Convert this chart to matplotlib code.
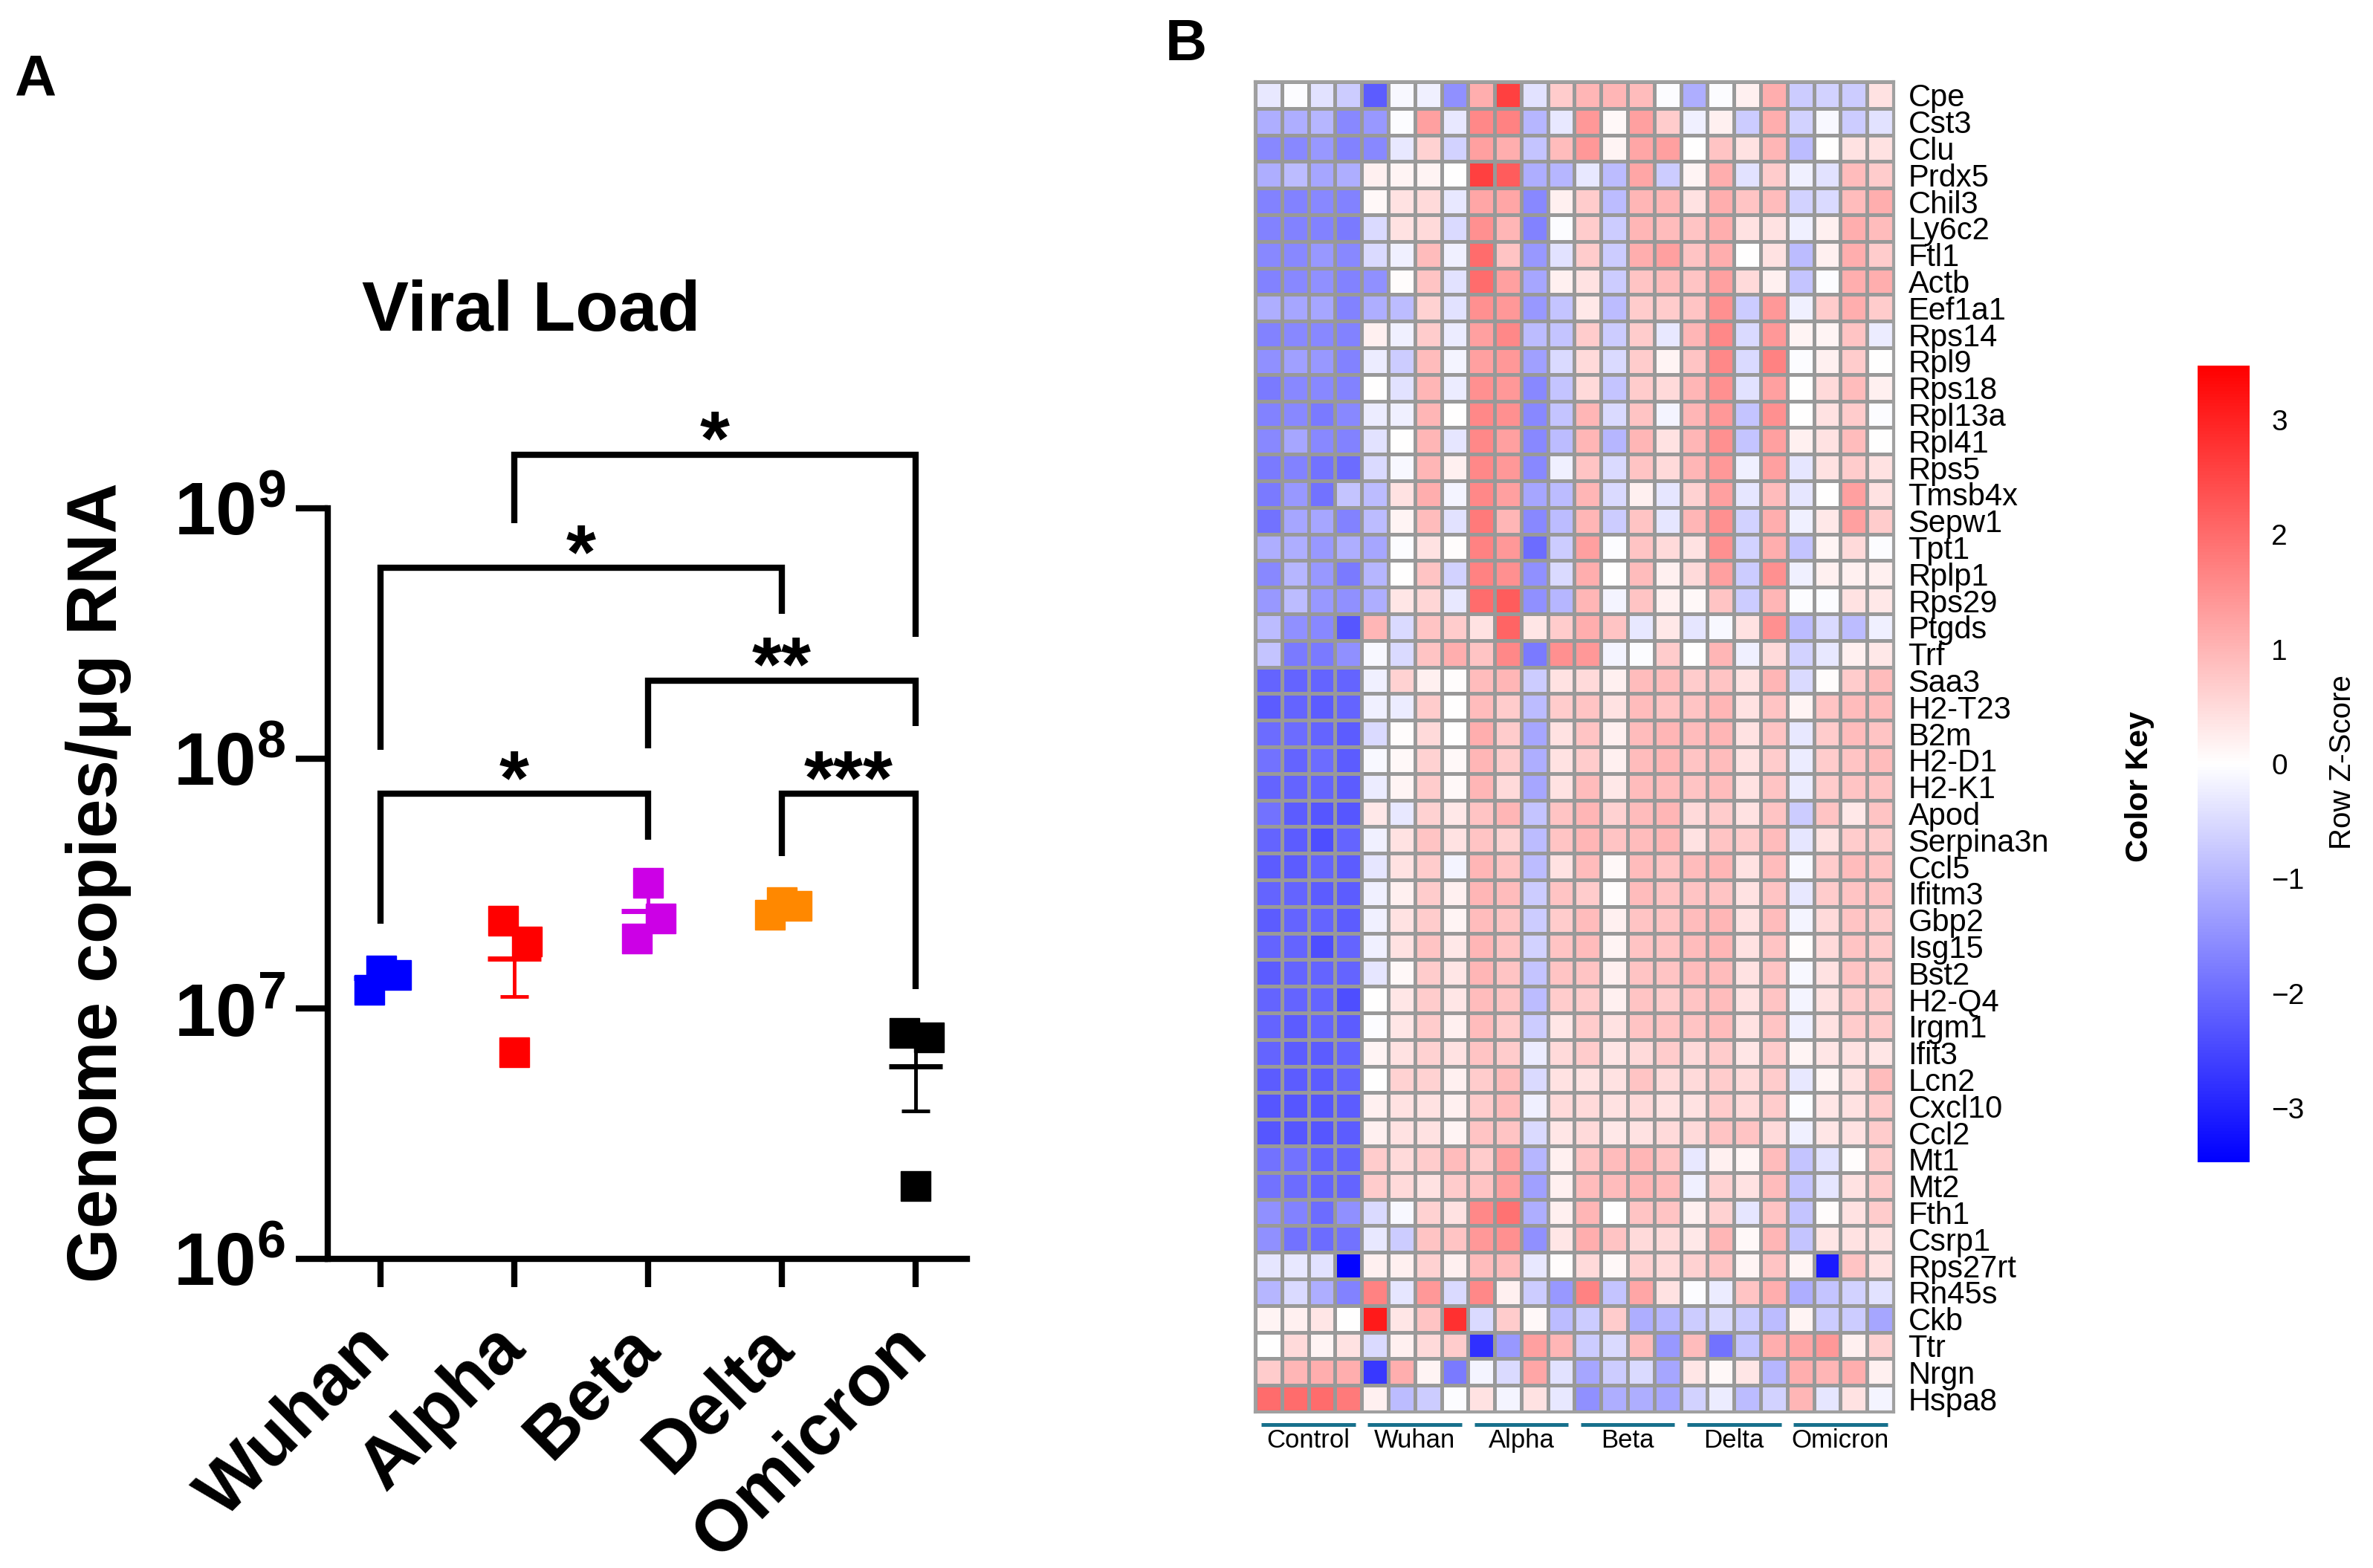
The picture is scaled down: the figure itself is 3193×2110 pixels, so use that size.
"""Viral load scatter (A) and gene z-score heatmap (B)."""

import matplotlib

matplotlib.use("Agg")
import matplotlib.pyplot as plt
import numpy as np
from matplotlib.colors import LinearSegmentedColormap
from matplotlib.ticker import NullLocator
from matplotlib.transforms import ScaledTranslation

W, H = 3193, 2110

plt.rcParams["font.family"] = ["Liberation Sans", "DejaVu Sans"]
plt.rcParams["mathtext.fontset"] = "custom"
plt.rcParams["mathtext.rm"] = "Liberation Sans"
plt.rcParams["mathtext.bf"] = "Liberation Sans:bold"

# ---- panel A data -------------------------------------------------------
variants = ["Wuhan", "Alpha", "Beta", "Delta", "Omicron"]
variant_colors = ["#0000ff", "#ff0000", "#cc00e6", "#ff8800", "#000000"]
wuhan = [1.19e7, 1.42e7, 1.36e7]
alpha = [2.25e7, 1.85e7, 6.7e6]
beta = [3.19e7, 2.29e7, 1.90e7]
delta = [2.37e7, 2.67e7, 2.57e7]
omicron = [7.98e6, 7.7e6, 1.95e6]
loads = [wuhan, alpha, beta, delta, omicron]
# horizontal spread of the dots inside each column
jitter = [[-0.083, 0.006, 0.117], [-0.083, 0.094, 0.0], [0.0, 0.094, -0.083],
          [-0.09, 0.0, 0.11], [-0.083, 0.1, 0.0]]

# significance brackets: (left group, right group, bar, left leg end, right leg end, label)
brackets = [
    (0, 2, 7.21e7, 2.19e7, 4.75e7, "*"),
    (2, 4, 2.05e8, 1.10e8, 1.35e8, "**"),
    (3, 4, 7.21e7, 4.06e7, 1.20e7, "***"),
    (0, 3, 5.79e8, 1.08e8, 3.79e8, "*"),
    (1, 4, 1.64e9, 8.72e8, 3.07e8, "*"),
]

# ---- panel B data -------------------------------------------------------
genes = ["Cpe", "Cst3", "Clu", "Prdx5", "Chil3", "Ly6c2", "Ftl1", "Actb", "Eef1a1",
         "Rps14", "Rpl9", "Rps18", "Rpl13a", "Rpl41", "Rps5", "Tmsb4x", "Sepw1",
         "Tpt1", "Rplp1", "Rps29", "Ptgds", "Trf", "Saa3", "H2-T23", "B2m", "H2-D1",
         "H2-K1", "Apod", "Serpina3n", "Ccl5", "Ifitm3", "Gbp2", "Isg15", "Bst2",
         "H2-Q4", "Irgm1", "Ifit3", "Lcn2", "Cxcl10", "Ccl2", "Mt1", "Mt2", "Fth1",
         "Csrp1", "Rps27rt", "Rn45s", "Ckb", "Ttr", "Nrgn", "Hspa8"]
groups = ["Control", "Wuhan", "Alpha", "Beta", "Delta", "Omicron"]
per_group = 4

zscores = [
    [-0.3, -0.05, -0.4, -0.7, -2.2, -0.1, -0.2, -1.5, 1.1, 2.6, -0.4, 0.7, 1.0, 1.0, 0.9, -0.05, -1.1, -0.05, 0.2, 1.1, -0.7, -0.6, -0.7, 0.4],
    [-1.1, -1.1, -1.0, -1.6, -1.4, -0.05, 1.3, -0.3, 1.6, 1.7, -1.0, -0.3, 1.4, 0.1, 1.3, 0.7, -0.2, 0.2, -0.7, 1.1, -0.6, -0.1, -0.7, -0.4],
    [-1.6, -1.6, -1.4, -1.7, -1.6, -0.3, 0.6, -0.6, 1.3, 1.1, -0.8, 0.9, 1.4, 0.15, 1.2, 1.3, 0.0, 0.8, 0.4, 1.0, -0.9, 0.0, 0.4, 0.4],
    [-1.1, -0.9, -1.2, -1.1, 0.2, 0.15, 0.15, 0.0, 2.6, 2.2, -1.1, -1.0, -0.3, -0.9, 1.2, -0.7, 0.15, 1.1, -0.4, 0.7, -0.2, -0.4, 0.9, 0.7],
    [-1.7, -1.7, -1.6, -1.7, 0.1, 0.4, 0.5, -0.3, 1.2, 1.2, -1.6, 0.2, 0.7, -0.9, 1.0, 1.0, 0.4, 1.1, 0.8, 0.9, -0.6, -0.5, 0.9, 1.1],
    [-1.7, -1.7, -1.7, -1.8, -0.5, 0.4, 0.5, -0.5, 1.5, 1.0, -1.7, -0.05, 0.7, -0.7, 1.0, 0.9, 0.8, 1.1, 0.4, 0.4, -0.2, 0.2, 1.1, 0.9],
    [-1.6, -1.6, -1.4, -1.6, -0.5, -0.2, 0.9, -0.2, 2.0, 0.8, -1.4, -0.4, 0.7, -0.7, 1.1, 1.3, 0.8, 1.1, 0.0, 0.4, -0.9, 0.2, 1.1, 0.7],
    [-1.7, -1.6, -1.5, -1.7, -1.5, 0.05, 0.8, -0.4, 2.0, 1.3, -1.2, 0.2, 0.4, -0.7, 0.8, 0.9, 0.8, 1.3, 0.5, 0.2, -0.8, -0.05, 1.1, 1.1],
    [-1.1, -1.2, -1.2, -1.7, -1.1, -0.9, 0.6, -0.4, 1.5, 1.4, -1.4, -0.8, 0.3, -0.9, 0.7, 0.7, 0.8, 1.5, -0.7, 1.4, -0.2, 0.7, 1.1, 0.7],
    [-1.7, -1.6, -1.6, -1.7, 0.2, -0.2, 0.7, -0.25, 1.3, 1.6, -0.9, -0.8, 0.7, -0.7, 0.7, -0.3, 1.0, 1.6, -0.5, 1.4, 0.15, 0.15, 0.8, -0.25],
    [-1.5, -1.3, -1.4, -1.7, -0.25, -0.7, 0.9, -0.15, 1.3, 1.4, -1.3, -0.5, 0.5, -0.5, 0.7, 0.15, 0.8, 1.6, -0.5, 1.7, -0.05, 0.2, 0.7, 0.0],
    [-1.8, -1.6, -1.6, -1.7, 0.0, -0.4, 1.0, -0.25, 1.5, 1.4, -1.6, -0.8, 0.5, -0.8, 0.7, 0.5, 1.0, 1.5, -0.4, 1.3, 0.0, 0.5, 0.9, 0.2],
    [-1.7, -1.6, -1.8, -1.6, -0.25, -0.2, 1.0, 0.0, 1.6, 1.5, -1.6, -0.8, 1.0, -0.5, 0.8, -0.15, 1.0, 1.4, -0.8, 1.5, 0.0, 0.4, 0.7, -0.05],
    [-1.6, -1.2, -1.6, -1.7, -0.4, 0.0, 1.0, -0.35, 1.6, 1.3, -1.6, -0.9, 1.0, -1.0, 1.0, 0.4, 1.0, 1.5, -0.8, 1.3, 0.2, 0.4, 0.9, 0.0],
    [-1.8, -1.7, -1.9, -2.0, -0.5, -0.1, 1.0, 0.2, 1.6, 1.4, -1.6, -0.2, 0.8, -0.5, 0.8, 0.5, 1.0, 1.4, -0.2, 1.3, -0.35, 0.4, 0.7, 0.4],
    [-1.8, -1.4, -1.9, -0.8, -0.9, 0.4, 1.1, -0.15, 1.6, 1.3, -1.2, -0.9, 1.0, -0.5, 0.2, -0.35, 0.6, 1.3, -0.35, 0.9, -0.35, 0.0, 1.3, 0.4],
    [-1.9, -1.2, -1.2, -1.7, -0.9, 0.15, 0.9, -0.4, 1.8, 1.0, -1.6, -0.9, 1.0, -0.7, 0.8, -0.35, 1.0, 1.5, -0.6, 1.1, -0.2, 0.3, 1.3, 0.7],
    [-1.1, -1.1, -1.4, -1.1, -1.2, -0.05, 0.4, 0.05, 1.7, 1.4, -2.0, -0.7, 1.3, -0.05, 0.8, 0.5, 0.4, 1.5, -0.6, 1.1, -0.8, 0.15, 0.5, -0.05],
    [-1.6, -1.0, -1.4, -1.8, -1.0, 0.0, 0.8, -0.6, 1.7, 1.5, -1.5, -0.5, 1.1, 0.0, 0.9, 0.2, 0.5, 1.3, -0.7, 1.5, -0.2, 0.2, 0.2, 0.2],
    [-1.4, -0.9, -1.4, -1.5, -1.1, 0.35, 0.55, -0.3, 2.0, 2.2, -1.5, -1.0, 1.0, -0.15, 0.8, 0.2, 0.1, 0.8, -0.7, 1.0, -0.05, -0.05, 0.4, 0.3],
    [-0.9, -1.5, -1.6, -2.3, 1.0, -0.5, 0.8, 0.7, 0.4, 2.1, 0.35, 0.7, 1.1, 0.8, -0.3, 0.3, -0.35, -0.1, 0.4, 1.5, -0.9, -0.5, -0.9, -0.2],
    [-0.8, -1.8, -1.8, -1.5, -0.1, -0.5, 0.8, 1.1, 0.8, 1.6, -1.8, 1.5, 1.4, -0.15, -0.05, 0.7, 0.0, 1.0, -0.2, 0.5, -0.6, -0.3, 0.2, 0.3],
    [-2.1, -2.1, -2.1, -2.1, -0.2, 0.6, 0.2, 0.05, 0.9, 1.0, -0.7, 0.4, 0.5, 0.2, 0.9, 0.9, 0.7, 0.8, 0.4, 1.0, -0.5, 0.05, 0.7, 0.9],
    [-2.2, -2.1, -2.2, -2.1, -0.2, -0.25, 0.7, 0.0, 0.9, 0.7, -0.9, 0.7, 0.8, 0.4, 0.9, 0.8, 0.8, 1.0, 0.4, 0.8, 0.15, 0.8, 0.9, 0.9],
    [-2.0, -2.0, -2.1, -2.2, -0.5, 0.05, 0.5, 0.0, 1.1, 0.7, -1.2, 0.4, 0.8, 0.2, 0.9, 1.0, 0.9, 1.0, 0.4, 0.8, -0.3, 0.7, 0.9, 0.8],
    [-1.9, -2.1, -2.0, -2.2, -0.1, 0.1, 0.6, 0.1, 1.0, 0.7, -1.1, 0.4, 0.7, 0.2, 0.9, 1.0, 0.8, 0.9, 0.4, 0.7, -0.25, 0.7, 0.8, 0.9],
    [-2.1, -2.1, -2.1, -2.2, -0.25, 0.15, 0.7, 0.1, 1.0, 0.5, -1.2, 0.4, 0.9, 0.3, 0.9, 0.9, 0.8, 0.9, 0.4, 0.8, -0.25, 0.7, 0.8, 0.8],
    [-1.9, -2.2, -2.3, -2.3, 0.3, -0.3, 0.6, 0.3, 0.8, 1.0, -0.8, 0.8, 1.0, 0.6, 0.9, 1.0, 0.5, 0.7, 0.4, 0.8, -0.7, 0.8, 0.3, 0.8],
    [-2.1, -2.2, -2.4, -2.1, -0.2, 0.4, 0.8, 0.4, 0.8, 0.6, -0.9, 0.8, 1.0, 0.8, 0.9, 1.0, 0.4, 0.8, 0.7, 0.9, -0.35, 0.4, 0.7, 0.7],
    [-2.2, -2.2, -2.1, -2.2, -0.35, 0.4, 0.7, -0.15, 1.0, 0.8, -0.9, 0.4, 0.9, 0.1, 0.9, 0.8, 0.9, 1.0, 0.4, 0.9, -0.1, 0.7, 0.9, 0.8],
    [-2.1, -2.1, -2.2, -2.2, -0.2, 0.2, 0.7, 0.2, 1.0, 0.9, -0.7, 0.8, 0.7, 0.05, 0.9, 0.8, 0.8, 0.8, 0.4, 0.8, -0.3, 0.7, 0.8, 0.8],
    [-2.2, -2.1, -2.1, -2.2, -0.2, 0.4, 0.7, 0.15, 0.9, 0.8, -0.7, 0.7, 0.9, 0.2, 0.8, 0.8, 0.9, 1.0, 0.4, 0.9, -0.15, 0.5, 0.8, 0.7],
    [-2.1, -2.1, -2.4, -2.1, -0.2, 0.4, 0.8, 0.3, 1.0, 0.8, -0.6, 0.8, 0.9, 0.15, 0.8, 0.8, 0.9, 1.0, 0.4, 0.8, 0.05, 0.5, 0.8, 0.7],
    [-2.2, -2.1, -2.1, -2.1, -0.35, 0.1, 0.7, 0.35, 1.0, 0.8, -0.8, 0.8, 0.8, 0.2, 0.8, 0.8, 0.9, 0.9, 0.4, 0.8, -0.1, 0.4, 0.8, 0.7],
    [-2.1, -2.1, -2.1, -2.4, 0.0, 0.35, 0.7, 0.35, 0.9, 0.8, -0.9, 0.7, 0.7, 0.2, 0.8, 0.7, 0.8, 0.9, 0.4, 0.8, -0.15, 0.4, 0.7, 0.7],
    [-2.1, -2.2, -2.1, -2.2, -0.05, 0.35, 0.7, 0.2, 0.9, 0.7, -0.7, 0.35, 0.7, 0.4, 0.8, 0.8, 0.8, 0.9, 0.4, 0.8, -0.2, 0.4, 0.7, 0.7],
    [-2.1, -2.2, -2.2, -2.1, 0.15, 0.4, 0.6, 0.4, 0.8, 0.7, -0.25, 0.5, 0.7, 0.35, 0.5, 0.7, 0.5, 0.7, 0.35, 0.7, 0.15, 0.35, 0.4, 0.35],
    [-2.2, -2.2, -2.2, -2.1, 0.0, 0.6, 0.6, 0.2, 0.7, 0.9, -0.5, 0.4, 0.4, 0.4, 0.8, 0.5, 0.5, 0.7, 0.5, 0.7, -0.3, 0.15, 0.4, 0.9],
    [-2.3, -2.3, -2.3, -2.2, 0.2, 0.4, 0.4, 0.2, 0.7, 0.9, -0.2, 0.5, 0.5, 0.4, 0.5, 0.4, 0.4, 0.7, 0.5, 0.7, -0.05, 0.35, 0.4, 0.7],
    [-2.3, -2.3, -2.3, -2.2, 0.2, 0.4, 0.4, 0.15, 0.8, 0.8, -0.5, 0.35, 0.5, 0.3, 0.4, 0.5, 0.5, 0.8, 0.8, 0.5, -0.2, 0.35, 0.4, 0.7],
    [-1.9, -1.9, -2.1, -2.1, 0.7, 0.5, 0.7, 0.9, 0.7, 1.3, -1.0, 0.2, 0.8, 0.9, 1.0, 0.8, -0.3, 0.2, 0.15, 0.9, -0.8, -0.4, 0.05, 0.7],
    [-1.9, -2.0, -2.1, -2.1, 0.7, 0.5, 0.4, 0.7, 0.8, 1.3, -1.3, 0.2, 0.9, 0.9, 1.0, 0.9, -0.2, 0.6, 0.4, 0.9, -0.8, -0.35, 0.4, 0.7],
    [-1.5, -1.7, -2.0, -1.5, -0.5, -0.1, 0.6, 0.4, 1.6, 1.9, -1.1, 0.2, 1.0, 0.0, 0.8, 0.8, 0.2, 0.6, -0.35, 0.8, -0.8, 0.05, 0.4, 0.7],
    [-1.5, -1.9, -2.0, -1.9, -0.3, -0.7, 0.8, 0.8, 1.4, 1.5, -1.5, 0.35, 1.1, 0.8, 0.5, 0.5, 0.3, 1.0, 0.1, 1.0, -0.8, 0.35, 0.4, 0.4],
    [-0.35, -0.3, -0.4, -3.4, 0.2, 0.2, 0.6, 0.2, 0.9, 0.9, -0.3, 0.05, 0.5, 0.1, 0.6, 0.5, 0.6, 0.8, 0.15, 0.8, 0.15, -3.1, 0.8, 0.4],
    [-1.0, -0.5, -1.1, -1.7, 1.7, -0.35, 1.4, -0.5, 1.6, 0.2, -0.7, -1.4, 1.7, -0.8, 1.2, 0.4, -0.05, -0.25, 0.8, 1.1, -1.1, -0.8, -0.6, -0.4],
    [0.15, 0.2, 0.35, 0.0, 3.1, 0.35, 0.8, 2.8, -0.5, 0.7, 0.1, -0.9, -0.7, 0.7, -1.1, -1.0, -0.7, -0.5, -0.7, -0.9, 0.15, -0.7, -0.7, -1.2],
    [0.0, 0.5, 0.15, 0.4, -0.5, 0.2, 0.5, 0.7, -2.8, -1.4, 1.3, 1.0, -0.7, -0.5, 0.9, -1.4, 0.9, -1.9, -0.8, 1.1, 1.2, 1.4, 0.2, 0.6],
    [0.7, 1.0, 1.1, 1.1, -2.7, 1.1, 0.15, -1.8, -0.15, -0.5, 1.2, -0.4, -1.2, -0.7, -0.5, -1.2, 0.35, 0.1, 0.35, -1.0, 1.1, 1.0, 1.1, 0.2],
    [2.0, 2.0, 2.0, 1.8, 0.2, -0.9, -0.7, -0.05, 0.4, -0.15, 0.4, -0.3, -1.5, -1.1, -1.1, -1.2, -0.6, -0.25, -0.9, -0.6, 1.0, -0.35, 0.4, -0.15],
]
zlim = 3.47
cbar_ticks = [-3, -2, -1, 0, 1, 2, 3]


def box(x0, y0, x1, y1):
    """Pixel box (top-left origin) -> figure fraction rect."""
    return [x0 / W, 1 - y1 / H, (x1 - x0) / W, (y1 - y0) / H]


def fx(x, y):
    return x / W, 1 - y / H


fig = plt.figure(figsize=(W / 100, H / 100), dpi=100)

# ======================= panel A =======================
ax = fig.add_axes(box(441, 684, 1301, 1694))
ax.set_yscale("log")
ax.set_ylim(1e6, 1e9)
ax.set_xlim(-0.394, 4.383)
for side in ["top", "right"]:
    ax.spines[side].set_visible(False)
for side in ["left", "bottom"]:
    ax.spines[side].set_linewidth(6)
ax.yaxis.set_minor_locator(NullLocator())
ax.set_yticks([1e6, 1e7, 1e8, 1e9])
ax.set_yticklabels([r"$\mathbf{10^{%d}}$" % e for e in (6, 7, 8, 9)], fontsize=72)
ax.tick_params(axis="y", length=31, width=6, pad=10)
ax.set_xticks(range(len(variants)))
ax.set_xticklabels(variants, rotation=45, ha="right", rotation_mode="anchor",
                   fontsize=70, fontweight="bold")
ax.tick_params(axis="x", length=27, width=6, pad=26)
shift = ScaledTranslation(-0.32, 0, fig.dpi_scale_trans)
for lab in ax.get_xticklabels():
    lab.set_transform(lab.get_transform() + shift)

for i, (vals, offs, col) in enumerate(zip(loads, jitter, variant_colors)):
    vals = np.asarray(vals)
    mean = vals.mean()
    sem = vals.std(ddof=1) / np.sqrt(len(vals))
    ax.hlines(mean, i - 0.2, i + 0.2, color=col, lw=5, zorder=2)
    ax.errorbar(i, mean, yerr=sem, color=col, elinewidth=3.5, capsize=14,
                capthick=3.5, zorder=2)
    ax.plot(i + np.asarray(offs), vals, "s", ms=29, color=col, mec=col,
            zorder=3, clip_on=False)

for g1, g2, bar, leg1, leg2, label in brackets:
    ax.plot([g1, g1, g2, g2], [leg1, bar, bar, leg2], color="black", lw=6,
            solid_joinstyle="miter", solid_capstyle="butt", clip_on=False, zorder=4)
    ax.annotate(label, xy=((g1 + g2) / 2, bar), xytext=(0, -10),
                textcoords="offset points", ha="center", va="baseline",
                fontsize=74, fontweight="bold", annotation_clip=False)

fig.text(*fx(715, 421), "Viral Load", ha="center", va="center", fontsize=68,
         fontweight="bold")
fig.text(*fx(133, 1188), "Genome copies/\u03bcg RNA", rotation=90, ha="center",
         va="center", fontsize=68, fontweight="bold")
fig.text(*fx(19, 128), "A", ha="left", va="baseline", fontsize=56, fontweight="bold")

# ======================= panel B =======================
cmap = LinearSegmentedColormap.from_list("bwr_key", ["#0000ff", "#ffffff", "#ff0000"])
data = np.asarray(zscores)
n_rows, n_cols = data.shape

axh = fig.add_axes(box(1689, 110, 2548, 1900))
mesh = axh.pcolormesh(np.arange(n_cols + 1), np.arange(n_rows + 1), data, cmap=cmap,
                      vmin=-zlim, vmax=zlim, edgecolors="#999999", linewidth=2.2)
axh.set_xlim(0, n_cols)
axh.set_ylim(n_rows, 0)
for sp in axh.spines.values():
    sp.set_color("#a0a0a0")
    sp.set_linewidth(3)
axh.set_xticks([])
axh.yaxis.tick_right()
axh.set_yticks(np.arange(n_rows) + 0.5)
axh.set_yticklabels(genes, fontsize=30)
axh.tick_params(axis="y", length=0, pad=14)

for k, name in enumerate(groups):
    c = k * per_group + per_group / 2
    axh.plot([c - 1.77, c + 1.77], [50.47, 50.47], color="#17708c", lw=3.6,
             solid_capstyle="butt", clip_on=False)
    axh.text(c, 50.62, name, ha="center", va="top", fontsize=25)

cax = fig.add_axes(box(2957, 492, 3027, 1564))
cb = fig.colorbar(mesh, cax=cax, ticks=cbar_ticks)
cb.outline.set_visible(False)
cax.tick_params(length=0, pad=21, labelsize=28)

fig.text(*fx(2879, 1059), "Color Key", rotation=90, ha="center", va="center",
         fontsize=31, fontweight="bold")
fig.text(*fx(3152, 1026), "Row Z-Score", rotation=90, ha="center", va="center",
         fontsize=29)
fig.text(*fx(1568, 81), "B", ha="left", va="baseline", fontsize=56, fontweight="bold")

fig.savefig("out.png", dpi=100)
plt.close(fig)
